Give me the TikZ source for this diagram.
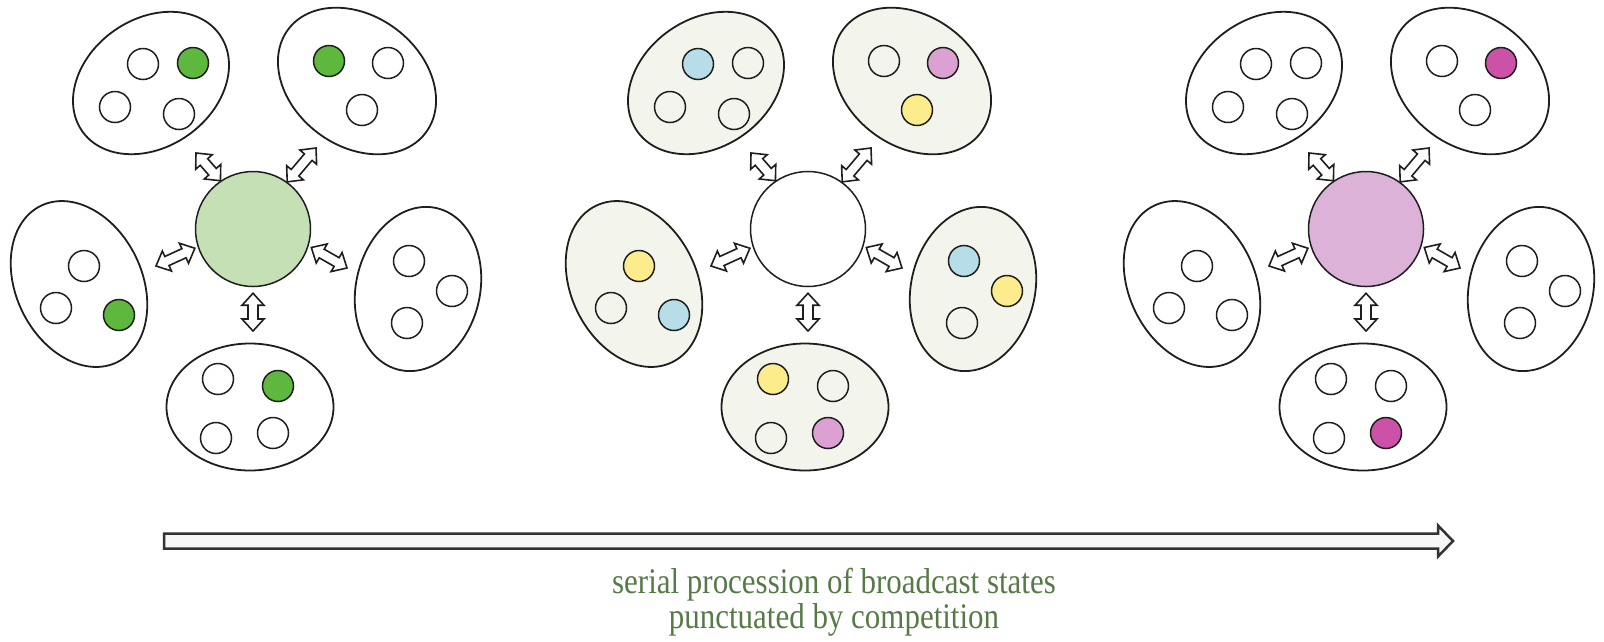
\documentclass[tikz,border=0pt]{standalone}
\usepackage{fontspec}
\newfontfamily\capfont[FakeStretch=0.86]{Liberation Serif}
\usetikzlibrary{shapes.geometric,calc}
\definecolor{ink}{RGB}{30,30,30}
\definecolor{dgreen}{RGB}{94,184,62}
\definecolor{lgreen}{RGB}{197,224,180}
\definecolor{lblue}{RGB}{183,222,232}
\definecolor{lyellow}{RGB}{253,236,140}
\definecolor{lpink}{RGB}{220,160,210}
\definecolor{magen}{RGB}{204,82,168}
\definecolor{lorchid}{RGB}{220,178,216}
\definecolor{paleg}{RGB}{243,245,236}
\definecolor{captxt}{RGB}{86,122,70}

\newcommand\capsetup{\capfont\fontsize{36}{35}\selectfont\lineskiplimit=-50pt\relax}

\tikzset{
  ellfill/.style={fill=white},
  hubfill/.style={fill=white},
  contell/.style={ellipse, draw=ink, line width=1.8pt, inner sep=0pt, ellfill},
  tokdot/.style={circle, draw=ink, line width=1.5pt, inner sep=0pt, minimum size=31pt},
  hubc/.style={circle, draw=ink, line width=1.5pt, inner sep=0pt, minimum size=115pt, hubfill},
  harr/.style={draw=ink, line width=1.6pt, fill=white, line join=miter},
  bigarr/.style={draw=black!80, line width=2.5pt, fill=black!3, line join=miter},
  captext/.style={font=\capsetup, text=captxt, align=center, inner sep=0pt},
  fUL1/.style={}, fUL2/.style={}, fUL3/.style={}, fUL4/.style={},
  fUR1/.style={}, fUR2/.style={}, fUR3/.style={},
  fL1/.style={}, fL2/.style={}, fL3/.style={},
  fR1/.style={}, fR2/.style={}, fR3/.style={},
  fB1/.style={}, fB2/.style={}, fB3/.style={}, fB4/.style={},
}

\newcommand\hollowarrow[2]{%
  \draw[harr] (#1)
    -- ($(#1)!12pt!(#2)!11pt!90:(#2)$)
    -- ($(#1)!12pt!(#2)!5pt!90:(#2)$)
    -- ($(#2)!12pt!(#1)!5pt!-90:(#1)$)
    -- ($(#2)!12pt!(#1)!11pt!-90:(#1)$)
    -- (#2)
    -- ($(#2)!12pt!(#1)!11pt!90:(#1)$)
    -- ($(#2)!12pt!(#1)!5pt!90:(#1)$)
    -- ($(#1)!12pt!(#2)!5pt!-90:(#2)$)
    -- ($(#1)!12pt!(#2)!11pt!-90:(#2)$)
    -- cycle;}

\newcommand\clusterbody{%
  \node[contell, minimum width=168pt, minimum height=128pt, rotate=35] (eUL) at (151,83) {};
  \node[contell, minimum width=172pt, minimum height=130pt, rotate=-37] (eUR) at (357,81) {};
  \node[contell, minimum width=174pt, minimum height=126pt, rotate=-64] (eL) at (79,284) {};
  \node[contell, minimum width=166pt, minimum height=124pt, rotate=77] (eR) at (418,289) {};
  \node[contell, minimum width=167pt, minimum height=127pt] (eB) at (250,407) {};
  \node[tokdot, fUL1] (UL1) at (143,64) {};
  \node[tokdot, fUL2] (UL2) at (193,63) {};
  \node[tokdot, fUL3] (UL3) at (115,107) {};
  \node[tokdot, fUL4] (UL4) at (179,114) {};
  \node[tokdot, fUR1] (UR1) at (329,61) {};
  \node[tokdot, fUR2] (UR2) at (388,63) {};
  \node[tokdot, fUR3] (UR3) at (362,110) {};
  \node[tokdot, fL1] (L1) at (84,266) {};
  \node[tokdot, fL2] (L2) at (56,308) {};
  \node[tokdot, fL3] (L3) at (119,315) {};
  \node[tokdot, fR1] (R1) at (409,261) {};
  \node[tokdot, fR2] (R2) at (452,291) {};
  \node[tokdot, fR3] (R3) at (407,323) {};
  \node[tokdot, fB1] (B1) at (218,379) {};
  \node[tokdot, fB2] (B2) at (278,386) {};
  \node[tokdot, fB3] (B3) at (216,438) {};
  \node[tokdot, fB4] (B4) at (273,433) {};
  \node[hubc] (hub) at (253,229) {};
  \coordinate (oUL) at (196,153);
  \coordinate (oUR) at (316,148);
  \coordinate (oL) at (156,266);
  \coordinate (oR) at (347,268);
  \coordinate (oB) at (253,331);
  \coordinate (iL) at ($(hub.198)!3pt!(oL)$);
  \coordinate (iR) at ($(hub.-17)!3pt!(oR)$);
  \coordinate (iB) at ($(hub.-90)!6pt!(oB)$);
  \hollowarrow{hub.124}{oUL}
  \hollowarrow{hub.54}{oUR}
  \hollowarrow{iL}{oL}
  \hollowarrow{iR}{oR}
  \hollowarrow{iB}{oB}
}

\begin{document}
\begin{tikzpicture}[x=1pt, y=-1pt]
\useasboundingbox (0,0) rectangle (1604,641);

\begin{scope}[name prefix=a-, hubfill/.style={fill=lgreen},
  fUL2/.style={fill=dgreen}, fUR1/.style={fill=dgreen},
  fL3/.style={fill=dgreen}, fB2/.style={fill=dgreen}]
  \clusterbody
\end{scope}

\begin{scope}[xshift=555pt, name prefix=b-, ellfill/.style={fill=paleg},
  fUL1/.style={fill=lblue}, fUR2/.style={fill=lpink}, fUR3/.style={fill=lyellow},
  fL1/.style={fill=lyellow}, fL3/.style={fill=lblue},
  fR1/.style={fill=lblue}, fR2/.style={fill=lyellow},
  fB1/.style={fill=lyellow}, fB4/.style={fill=lpink}]
  \clusterbody
\end{scope}

\begin{scope}[xshift=1113pt, name prefix=c-, hubfill/.style={fill=lorchid},
  fUR2/.style={fill=magen}, fB4/.style={fill=magen}]
  \clusterbody
\end{scope}

\coordinate (ps) at (164,541);
\coordinate (pe) at (1453,541);
\draw[bigarr] ($(ps)+(0,-7.5)$) -- ($(pe)+(-15,-7.5)$) -- ($(pe)+(-15,-15.5)$)
  -- (pe) -- ($(pe)+(-15,15.5)$) -- ($(pe)+(-15,7.5)$) -- ($(ps)+(0,7.5)$) -- cycle;

\node[captext, anchor=north] (cap) at (834,568)
  {serial procession of broadcast states\\punctuated by competition};
\end{tikzpicture}
\end{document}
